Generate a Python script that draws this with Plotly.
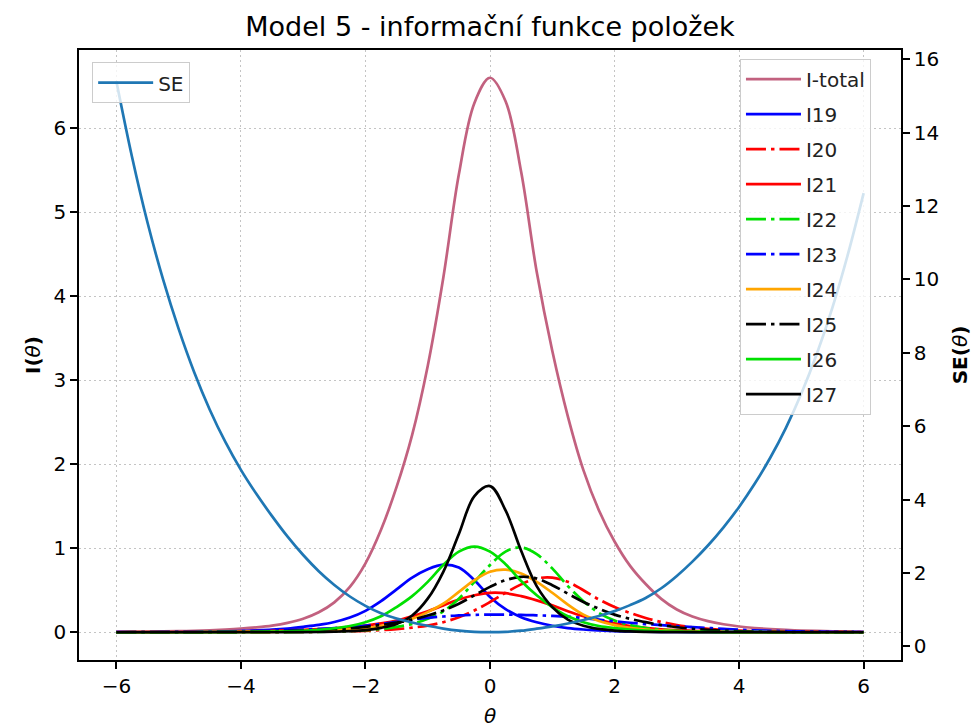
import plotly.graph_objects as go

theta = [-6.0, -5.75, -5.5, -5.25, -5.0, -4.75, -4.5, -4.25, -4.0, -3.75, -3.5, -3.25, -3.0,
         -2.75, -2.5, -2.25, -2.0, -1.75, -1.5, -1.25, -1.0, -0.75, -0.5, -0.25, 0.0,
         0.25, 0.5, 0.75, 1.0, 1.25, 1.5, 1.75, 2.0, 2.25, 2.5, 2.75, 3.0,
         3.25, 3.5, 3.75, 4.0, 4.25, 4.5, 4.75, 5.0, 5.25, 5.5, 5.75, 6.0]

i_total = [0.0042, 0.0056, 0.0075, 0.010, 0.0134, 0.018, 0.024, 0.032, 0.043, 0.058, 0.079, 0.112, 0.161,
           0.238, 0.356, 0.54, 0.82, 1.22, 1.73, 2.35, 3.17, 4.22, 5.45, 6.3, 6.6,
           6.32, 5.48, 4.29, 3.35, 2.57, 1.93, 1.45, 1.08, 0.79, 0.574, 0.398, 0.271,
           0.187, 0.132, 0.095, 0.069, 0.051, 0.038, 0.028, 0.021, 0.0157, 0.0117, 0.0087, 0.0066]

se = [15.4, 13.35, 11.55, 10.0, 8.65, 7.47, 6.45, 5.57, 4.81, 4.15, 3.55, 2.99, 2.49,
      2.05, 1.675, 1.36, 1.105, 0.905, 0.76, 0.652, 0.562, 0.487, 0.431, 0.397, 0.39,
      0.397, 0.428, 0.483, 0.546, 0.624, 0.72, 0.83, 0.962, 1.125, 1.32, 1.585, 1.92,
      2.31, 2.75, 3.245, 3.8, 4.43, 5.14, 5.95, 6.89, 7.98, 9.24, 10.7, 12.35]

i19 = [0.001, 0.0013, 0.002, 0.003, 0.004, 0.006, 0.008, 0.011, 0.015, 0.022, 0.031, 0.045, 0.065,
       0.088, 0.122, 0.175, 0.255, 0.37, 0.51, 0.65, 0.75, 0.805, 0.77, 0.62, 0.42,
       0.275, 0.18, 0.12, 0.078, 0.05, 0.033, 0.022, 0.014, 0.009, 0.006, 0.004, 0.003,
       0.002, 0.0015, 0.001, 0.0008, 0.0006, 0.0005, 0.0004, 0.0003, 0.0002, 0.0002, 0.0001, 0.0001]

i20 = [0.0002, 0.0002, 0.0003, 0.0004, 0.0005, 0.0007, 0.001, 0.0012, 0.0015, 0.002, 0.0025, 0.003, 0.004,
       0.006, 0.008, 0.012, 0.017, 0.025, 0.037, 0.055, 0.08, 0.12, 0.18, 0.26, 0.36,
       0.47, 0.57, 0.64, 0.65, 0.6, 0.5, 0.39, 0.3, 0.23, 0.17, 0.122, 0.087,
       0.06, 0.042, 0.029, 0.02, 0.014, 0.009, 0.006, 0.004, 0.003, 0.002, 0.0015, 0.001]

i21 = [0.001, 0.0014, 0.002, 0.0025, 0.003, 0.0045, 0.006, 0.008, 0.01, 0.014, 0.018, 0.024, 0.03,
       0.038, 0.048, 0.062, 0.08, 0.105, 0.14, 0.19, 0.25, 0.32, 0.39, 0.44, 0.47,
       0.465, 0.43, 0.38, 0.32, 0.25, 0.19, 0.145, 0.105, 0.075, 0.052, 0.036, 0.025,
       0.018, 0.012, 0.009, 0.006, 0.0045, 0.003, 0.002, 0.0015, 0.001, 0.0007, 0.0005, 0.0003]

i22 = [0.0001, 0.0001, 0.0001, 0.0001, 0.0001, 0.0002, 0.0003, 0.0005, 0.0007, 0.001, 0.0015, 0.002, 0.003,
       0.005, 0.009, 0.015, 0.025, 0.04, 0.065, 0.1, 0.16, 0.25, 0.4, 0.6, 0.8,
       0.96, 1.01, 0.93, 0.76, 0.55, 0.37, 0.23, 0.14, 0.085, 0.05, 0.03, 0.018,
       0.011, 0.006, 0.004, 0.002, 0.0015, 0.001, 0.0007, 0.0004, 0.0003, 0.0002, 0.0001, 0.0001]

i23 = [0.002, 0.0025, 0.003, 0.004, 0.005, 0.0065, 0.008, 0.01, 0.013, 0.016, 0.02, 0.026, 0.032,
       0.04, 0.05, 0.065, 0.08, 0.1, 0.125, 0.15, 0.172, 0.188, 0.2, 0.207, 0.21,
       0.21, 0.208, 0.202, 0.195, 0.185, 0.17, 0.15, 0.13, 0.113, 0.098, 0.085, 0.073,
       0.062, 0.051, 0.04, 0.03, 0.023, 0.018, 0.013, 0.01, 0.008, 0.006, 0.004, 0.003]

i24 = [0.0005, 0.0006, 0.0007, 0.0009, 0.001, 0.0015, 0.002, 0.0025, 0.003, 0.004, 0.005, 0.008, 0.012,
       0.017, 0.024, 0.035, 0.05, 0.075, 0.11, 0.16, 0.24, 0.34, 0.48, 0.62, 0.72,
       0.745, 0.7, 0.6, 0.47, 0.33, 0.21, 0.135, 0.085, 0.052, 0.032, 0.019, 0.011,
       0.007, 0.004, 0.0025, 0.0015, 0.001, 0.0007, 0.0005, 0.0003, 0.0002, 0.0002, 0.0001, 0.0001]

i25 = [0.0005, 0.0007, 0.001, 0.0015, 0.002, 0.0025, 0.003, 0.0045, 0.006, 0.008, 0.011, 0.015, 0.02,
       0.027, 0.036, 0.048, 0.065, 0.088, 0.115, 0.15, 0.2, 0.26, 0.34, 0.44, 0.54,
       0.62, 0.66, 0.64, 0.56, 0.46, 0.36, 0.28, 0.21, 0.16, 0.12, 0.085, 0.06,
       0.042, 0.028, 0.019, 0.012, 0.008, 0.005, 0.003, 0.002, 0.0015, 0.001, 0.0007, 0.0005]

i26 = [0.0001, 0.0001, 0.0002, 0.0002, 0.0003, 0.0005, 0.001, 0.0015, 0.003, 0.0045, 0.007, 0.011, 0.018,
       0.03, 0.048, 0.075, 0.12, 0.19, 0.3, 0.43, 0.6, 0.8, 0.96, 1.02, 0.96,
       0.81, 0.61, 0.44, 0.3, 0.19, 0.12, 0.075, 0.05, 0.032, 0.02, 0.012, 0.008,
       0.005, 0.003, 0.002, 0.001, 0.0008, 0.0005, 0.0003, 0.0002, 0.0001, 0.0001, 0.0001, 0.0001]

i27 = [0.0, 0.0, 0.0, 0.0, 0.0, 0.0, 0.0, 0.0001, 0.0001, 0.0002, 0.0004, 0.0008, 0.0015,
       0.003, 0.006, 0.013, 0.026, 0.053, 0.1, 0.2, 0.4, 0.72, 1.17, 1.62, 1.74,
       1.45, 0.97, 0.55, 0.3, 0.15, 0.078, 0.04, 0.02, 0.01, 0.005, 0.0025, 0.0012,
       0.0006, 0.0003, 0.0002, 0.0001, 0.0, 0.0, 0.0, 0.0, 0.0, 0.0, 0.0, 0.0]

item_names = ["I-total", "I19", "I20", "I21", "I22", "I23", "I24", "I25", "I26", "I27"]
item_values = [i_total, i19, i20, i21, i22, i23, i24, i25, i26, i27]
item_colors = ["#c2617f", "#0000ff", "#ff0000", "#ff0000", "#00e000", "#0000ff",
               "#ffa500", "#000000", "#00e000", "#000000"]
item_dash = ["solid", "solid", "dashdot", "solid", "dashdot", "dashdot",
             "solid", "dashdot", "solid", "solid"]

FONT = "DejaVu Sans"
DASHDOT = "20px,5px,3.5px,5px"

# page has an 8px body margin: figure is 972x720 so it fills the 980x728 window
W, H = 972, 720
OFF = 8

fig = go.Figure()
for name, vals, color, style in zip(item_names, item_values, item_colors, item_dash):
    fig.add_trace(go.Scatter(
        x=theta, y=vals, name=name, mode="lines", line_shape="spline",
        line=dict(color=color, width=2.7, dash=DASHDOT if style == "dashdot" else "solid"),
        legend="legend2", legendgroup=name, yaxis="y",
    ))

fig.add_trace(go.Scatter(
    x=theta, y=se, name="SE", mode="lines", line_shape="spline",
    line=dict(color="#1f77b4", width=2.7), legend="legend", yaxis="y2",
))

axis_common = dict(
    showline=True, linecolor="black", linewidth=1.5,
    ticks="outside", ticklen=7, tickwidth=1.5, tickcolor="black",
    tickfont=dict(family=FONT, size=20, color="black"),
    zeroline=False, automargin=False,
)
grid = dict(showgrid=True, gridcolor="#c4c4c4", griddash="2px,3px", gridwidth=1.2)

legend_common = dict(bgcolor="rgba(255,255,255,0.8)", bordercolor="#cccccc", borderwidth=1,
                     itemwidth=55, font=dict(family=FONT, size=20, color="#222222"))

fig.update_layout(
    width=W, height=H,
    margin=dict(l=79 - OFF, r=79, t=50 - OFF, b=68, autoexpand=False),
    paper_bgcolor="white", plot_bgcolor="white",
    font=dict(family=FONT, color="black"),
    title=dict(text="Model 5 - informační funkce položek", x=0.5, xref="paper",
               y=1 - (27 - OFF) / H, yanchor="middle",
               font=dict(family=FONT, size=27, color="black")),
    xaxis=dict(range=[-6.6, 6.6], tickvals=[-6, -4, -2, 0, 2, 4, 6], mirror=True,
               title=dict(text="<i>θ</i>", font=dict(family=FONT, size=20), standoff=14),
               **grid, **axis_common),
    yaxis=dict(range=[-0.33, 6.93], tickvals=[0, 1, 2, 3, 4, 5, 6], mirror=True,
               title=dict(text="<b>I(</b><i>θ</i><b>)</b>", font=dict(family=FONT, size=20), standoff=8),
               **grid, **axis_common),
    yaxis2=dict(range=[-0.37, 16.25], tickvals=list(range(0, 17, 2)), overlaying="y", side="right",
                showgrid=False,
                title=dict(text="<b>SE(</b><i>θ</i><b>)</b>", font=dict(family=FONT, size=20), standoff=15),
                **axis_common),
    legend=dict(x=0.016, y=0.98, xanchor="left", yanchor="top", **legend_common),
    legend2=dict(x=0.8041, y=0.986, xanchor="left", yanchor="top",
                 traceorder="grouped", tracegroupgap=6, **legend_common),
    showlegend=True,
)

fig.write_html("out.html")
